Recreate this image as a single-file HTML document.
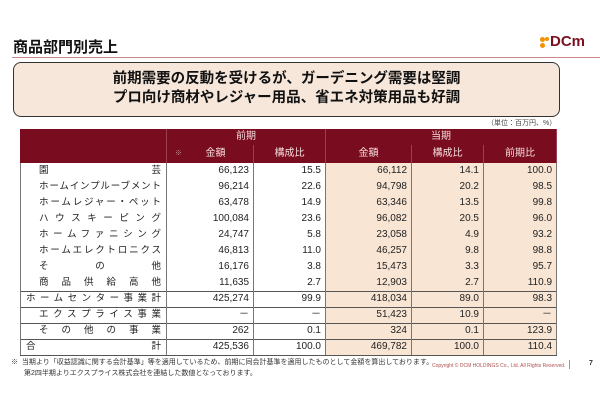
<!DOCTYPE html>
<html><head><meta charset="utf-8"><style>
*{margin:0;padding:0;box-sizing:border-box}
body{width:600px;height:400px;background:#fff;position:relative;overflow:hidden;font-family:"Liberation Sans","Noto Sans CJK JP",sans-serif;color:#222}
.abs{position:absolute}
table{position:absolute;left:20px;top:129px;border-collapse:collapse;font-size:10px;table-layout:fixed;width:536px}
td{height:16px;padding:0 4px;text-align:right;border-left:1px solid #777;border-right:1px solid #777;line-height:14px;white-space:nowrap;overflow:hidden}
td.l{text-align:justify;text-align-last:justify;padding:0 5px 0 18px;font-size:9.5px}
tr.h td{background:#7a0c1f;color:#f4dede;text-align:center;font-size:10px;border-color:#9a4050}
.b{background:#f8e5d4}
tr.t td{border-top:1.5px solid #555}
tr.bot td{border-bottom:1.5px solid #555}
</style></head><body>
<div class="abs" style="left:13px;top:36px;font-size:15px;font-weight:bold;color:#111">商品部門別売上</div>
<div class="abs" style="left:540px;top:37px;width:10px;height:14px">
<div class="abs" style="left:0;top:0;width:5px;height:5px;border-radius:50%;background:#f39200"></div>
<div class="abs" style="left:0;top:6px;width:5px;height:5px;border-radius:50%;background:#f39200"></div>
<div class="abs" style="left:5px;top:0;width:4px;height:4px;border-radius:50%;background:#f39200"></div>
</div>
<div class="abs" style="left:550px;top:33px;font-size:15px;font-weight:bold;color:#7a1020">DCm</div>
<div class="abs" style="left:12px;top:57px;width:588px;height:1px;background:#c98a8a"></div>
<div class="abs" style="left:13px;top:62px;width:547px;height:55px;border:1.5px solid #333;border-radius:8px;background:#f7e7da"></div>
<div class="abs" style="left:13px;top:70px;width:547px;text-align:center;font-size:14.5px;font-weight:bold;line-height:19px;color:#111">前期需要の反動を受けるが、ガーデニング需要は堅調<br>プロ向け商材やレジャー用品、省エネ対策用品も好調</div>
<div class="abs" style="left:487px;top:118px;font-size:7px;color:#444">（単位：百万円、%）</div>
<table>
<colgroup><col style="width:146px"><col style="width:87px"><col style="width:72px"><col style="width:86px"><col style="width:72px"><col style="width:73px"></colgroup>
<tr class="h"><td rowspan="2" style="border-left:1px solid #7a0c1f"></td><td colspan="2" style="height:15px">前期</td><td colspan="3">当期</td></tr>
<tr class="h"><td style="height:18px"><span style="font-size:7px;opacity:.6;float:left;margin-left:4px">※</span>金額</td><td>構成比</td><td>金額</td><td>構成比</td><td>前期比</td></tr>
<tr><td class="l">園芸</td><td>66,123</td><td>15.5</td><td class="b">66,112</td><td class="b">14.1</td><td class="b">100.0</td></tr>
<tr><td class="l">ホームインプルーブメント</td><td>96,214</td><td>22.6</td><td class="b">94,798</td><td class="b">20.2</td><td class="b">98.5</td></tr>
<tr><td class="l">ホームレジャー・ペット</td><td>63,478</td><td>14.9</td><td class="b">63,346</td><td class="b">13.5</td><td class="b">99.8</td></tr>
<tr><td class="l">ハウスキーピング</td><td>100,084</td><td>23.6</td><td class="b">96,082</td><td class="b">20.5</td><td class="b">96.0</td></tr>
<tr><td class="l">ホームファニシング</td><td>24,747</td><td>5.8</td><td class="b">23,058</td><td class="b">4.9</td><td class="b">93.2</td></tr>
<tr><td class="l">ホームエレクトロニクス</td><td>46,813</td><td>11.0</td><td class="b">46,257</td><td class="b">9.8</td><td class="b">98.8</td></tr>
<tr><td class="l">その他</td><td>16,176</td><td>3.8</td><td class="b">15,473</td><td class="b">3.3</td><td class="b">95.7</td></tr>
<tr><td class="l">商品供給高他</td><td>11,635</td><td>2.7</td><td class="b">12,903</td><td class="b">2.7</td><td class="b">110.9</td></tr>
<tr class="t"><td class="l" style="padding-left:5px">ホームセンター事業計</td><td>425,274</td><td>99.9</td><td class="b">418,034</td><td class="b">89.0</td><td class="b">98.3</td></tr>
<tr class="t"><td class="l">エクスプライス事業</td><td>－</td><td>－</td><td class="b">51,423</td><td class="b">10.9</td><td class="b">－</td></tr>
<tr class="t"><td class="l">その他の事業</td><td>262</td><td>0.1</td><td class="b">324</td><td class="b">0.1</td><td class="b">123.9</td></tr>
<tr class="t bot"><td class="l" style="padding-left:5px">合計</td><td>425,536</td><td>100.0</td><td class="b">469,782</td><td class="b">100.0</td><td class="b">110.4</td></tr>
</table>
<div class="abs" style="left:11px;top:357px;font-size:7px;line-height:11px;color:#333">※&nbsp;&nbsp;当期より「収益認識に関する会計基準」等を適用しているため、前期に同会計基準を適用したものとして金額を算出しております。<br><span style="padding-left:13px">第2四半期よりエクスプライス株式会社を連結した数値となっております。</span></div>
<div class="abs" style="left:432px;top:363px;font-size:5px;color:#b05050">Copyright © DCM HOLDINGS Co., Ltd. All Rights Reserved.</div>
<div class="abs" style="left:569px;top:360px;width:1px;height:9px;background:#999"></div>
<div class="abs" style="left:589px;top:360px;font-size:7px;font-weight:bold;color:#333">7</div>
</body></html>
